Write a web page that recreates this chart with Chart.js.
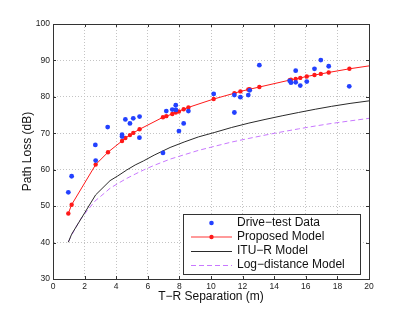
<!DOCTYPE html>
<html>
<head>
<meta charset="utf-8">
<script src="https://cdn.jsdelivr.net/npm/chart.js@4.4.0/dist/chart.umd.min.js"></script>
<style>
  html, body { margin: 0; padding: 0; background: #fff; }
  #wrap { width: 407px; height: 314px; }
</style>
</head>
<body>
<div id="wrap"><canvas id="chart" width="407" height="314"></canvas></div>
<script>
// measured points (distance in m, loss in dB)
const driveX = [0.97, 1.18, 2.68, 2.70, 3.46, 4.37, 4.37, 4.58, 4.87, 5.08, 5.48, 5.47, 6.96, 7.17, 7.55, 7.77, 7.78, 7.97, 8.27, 8.57, 10.17, 11.48, 11.48, 11.86, 12.36, 12.45, 13.06, 14.98, 15.06, 15.36, 15.36, 15.65, 16.06, 16.55, 16.95, 17.45, 18.75];
const driveY = [53.8, 58.2, 66.8, 62.5, 71.7, 69.6, 69.1, 73.8, 72.7, 74.1, 74.6, 68.8, 64.6, 76.1, 76.5, 77.7, 76.4, 70.6, 72.7, 76.1, 80.8, 80.5, 75.7, 79.9, 80.5, 81.8, 88.7, 84.4, 83.9, 87.2, 84.0, 83.1, 84.2, 87.7, 90.1, 88.4, 82.9];

// proposed model, evaluated at the drive-test distances
const modelX = [0.97, 1.18, 2.70, 3.48, 4.37, 4.58, 4.87, 5.08, 5.48, 6.96, 7.17, 7.55, 7.77, 7.97, 8.27, 8.57, 10.17, 11.48, 11.86, 12.36, 12.45, 13.06, 14.98, 15.06, 15.36, 15.65, 16.06, 16.55, 16.95, 17.45, 18.76, 20];
const modelY = [48.0, 50.4, 61.4, 64.8, 67.9, 68.7, 69.5, 70.1, 71.1, 74.4, 74.7, 75.3, 75.7, 76.0, 76.6, 77.1, 79.4, 81.0, 81.5, 82.0, 82.1, 82.7, 84.6, 84.7, 84.9, 85.2, 85.6, 86.0, 86.3, 86.7, 87.7, 88.5];

const ituX = [0.97, 1.18, 2.70, 3.61, 4.1, 4.66, 5.2, 5.72, 6.4, 7.41, 8.3, 9.2, 10.2, 11.31, 12.4, 13.42, 14.5, 15.53, 16.6, 17.63, 18.8, 20];
const ituY = [40.1, 42.3, 53.1, 57.0, 58.3, 59.9, 61.3, 62.4, 64.0, 66.1, 67.6, 69.0, 70.2, 71.6, 72.8, 73.8, 74.8, 75.7, 76.6, 77.4, 78.2, 78.9];

const logX = [0.97, 1.2, 1.5, 1.71, 2.1, 2.66, 3.1, 3.61, 4.1, 4.66, 5.2, 5.72, 6.4, 7.41, 8.3, 9.2, 10.2, 11.31, 12.4, 13.42, 14.5, 15.53, 16.6, 17.63, 18.8, 20];
const logY = [40.2, 42.2, 44.6, 46.2, 48.4, 51.4, 53.0, 54.9, 56.2, 57.6, 58.8, 59.9, 61.2, 62.9, 64.1, 65.3, 66.4, 67.6, 68.6, 69.5, 70.4, 71.2, 72.0, 72.7, 73.4, 74.1];

const seriesNames = ['Drive\u2212test Data', 'Proposed Model', 'ITU\u2212R Model', 'Log\u2212distance Model'];

const BLUE = 'rgb(35,65,255)';
const RED = 'rgb(255,25,25)';
const BLACK = '#2a2a2a';
const PURPLE = 'rgb(200,120,255)';
const FONT = '"Liberation Sans", Arial, Helvetica, sans-serif';

function pts(xs, ys) {
    return xs.map((x, i) => ({ x: x, y: ys[i] }));
}

// box, inward ticks, axis titles and the legend drawn in the plot
const decorations = {
    id: 'decorations',
    afterDraw(chart) {
        const ctx = chart.ctx;
        const a = chart.chartArea;
        const xs = chart.scales.x, ys = chart.scales.y;
        ctx.save();

        // inward tick marks on all four sides
        ctx.strokeStyle = '#333';
        ctx.lineWidth = 1;
        ctx.beginPath();
        xs.ticks.forEach(t => {
            const px = Math.round(xs.getPixelForValue(t.value)) + 0.5;
            ctx.moveTo(px, a.bottom); ctx.lineTo(px, a.bottom - 3);
            ctx.moveTo(px, a.top); ctx.lineTo(px, a.top + 3);
        });
        ys.ticks.forEach(t => {
            const py = Math.round(ys.getPixelForValue(t.value)) + 0.5;
            ctx.moveTo(a.left, py); ctx.lineTo(a.left + 3, py);
            ctx.moveTo(a.right, py); ctx.lineTo(a.right - 3, py);
        });
        ctx.stroke();

        // box
        ctx.strokeStyle = '#333';
        ctx.strokeRect(Math.round(a.left) + 0.5, Math.round(a.top) + 0.5,
            Math.round(a.right - a.left), Math.round(a.bottom - a.top));

        // axis titles
        ctx.fillStyle = '#111';
        ctx.font = '12px ' + FONT;
        ctx.textAlign = 'center';
        ctx.textBaseline = 'middle';
        ctx.fillText('T\u2212R Separation (m)', (a.left + a.right) / 2, 297);
        ctx.save();
        ctx.translate(28, (a.top + a.bottom) / 2);
        ctx.rotate(-Math.PI / 2);
        ctx.fillText('Path Loss (dB)', 0, 0);
        ctx.restore();

        // legend
        const bx = 183.5, by = 214.5, bw = 177, bh = 60;
        ctx.fillStyle = '#fff';
        ctx.fillRect(bx, by, bw, bh);
        ctx.strokeStyle = '#333';
        ctx.strokeRect(bx, by, bw, bh);
        const rows = [223, 237, 251, 265];
        const x0 = 191, x1 = 232, xm = 211.5;
        ctx.font = '12px ' + FONT;
        ctx.textAlign = 'left';
        ctx.fillStyle = '#111';
        seriesNames.forEach((name, i) => ctx.fillText(name, 237, rows[i]));

        ctx.fillStyle = BLUE;
        ctx.beginPath(); ctx.arc(xm, rows[0], 2.3, 0, Math.PI * 2); ctx.fill();

        ctx.strokeStyle = 'rgb(255,120,120)';
        ctx.lineWidth = 1.6;
        ctx.beginPath(); ctx.moveTo(x0, rows[1]); ctx.lineTo(x1, rows[1]); ctx.stroke();
        ctx.fillStyle = RED;
        ctx.beginPath(); ctx.arc(xm, rows[1], 2.2, 0, Math.PI * 2); ctx.fill();

        ctx.strokeStyle = BLACK;
        ctx.lineWidth = 1;
        ctx.beginPath(); ctx.moveTo(x0, rows[2] + 0.5); ctx.lineTo(x1, rows[2] + 0.5); ctx.stroke();

        ctx.strokeStyle = PURPLE;
        ctx.setLineDash([5, 3]);
        ctx.beginPath(); ctx.moveTo(x0, rows[3] + 0.5); ctx.lineTo(x1, rows[3] + 0.5); ctx.stroke();
        ctx.restore();
    }
};

const ctx = document.getElementById('chart').getContext('2d');
new Chart(ctx, {
    type: 'scatter',
    data: {
        datasets: [
            {
                label: seriesNames[0],
                data: pts(driveX, driveY),
                showLine: false,
                pointRadius: 2.4,
                pointBackgroundColor: BLUE,
                pointBorderWidth: 0,
                borderColor: BLUE
            },
            {
                label: seriesNames[1],
                data: pts(modelX, modelY),
                showLine: true,
                borderColor: RED,
                borderWidth: 1,
                pointRadius: modelX.map((x, i) => i === modelX.length - 1 ? 0 : 2.2),
                pointBackgroundColor: RED,
                pointBorderWidth: 0
            },
            {
                label: seriesNames[2],
                data: pts(ituX, ituY),
                showLine: true,
                borderColor: BLACK,
                borderWidth: 1,
                pointRadius: 0
            },
            {
                label: seriesNames[3],
                data: pts(logX, logY),
                showLine: true,
                borderColor: PURPLE,
                borderWidth: 1,
                borderDash: [5, 3],
                pointRadius: 0
            }
        ]
    },
    options: {
        responsive: false,
        animation: false,
        events: [],
        layout: { padding: { left: 0, right: 38, top: 24, bottom: 0 } },
        plugins: {
            legend: { display: false },
            tooltip: { enabled: false }
        },
        scales: {
            x: {
                type: 'linear',
                min: 0,
                max: 20,
                afterFit: scale => { scale.height = 35; },
                ticks: {
                    stepSize: 2,
                    padding: 3,
                    color: '#222',
                    font: { family: FONT, size: 8.5 }
                },
                grid: { color: '#c4c4c4', drawTicks: false },
                border: { display: true, color: '#333', dash: [1, 2] }
            },
            y: {
                type: 'linear',
                min: 30,
                max: 100,
                afterFit: scale => { scale.width = 53; },
                ticks: {
                    stepSize: 10,
                    padding: 3,
                    color: '#222',
                    font: { family: FONT, size: 8.5 }
                },
                grid: { color: '#c4c4c4', drawTicks: false },
                border: { display: true, color: '#333', dash: [1, 2] }
            }
        }
    },
    plugins: [decorations]
});
</script>
</body>
</html>
